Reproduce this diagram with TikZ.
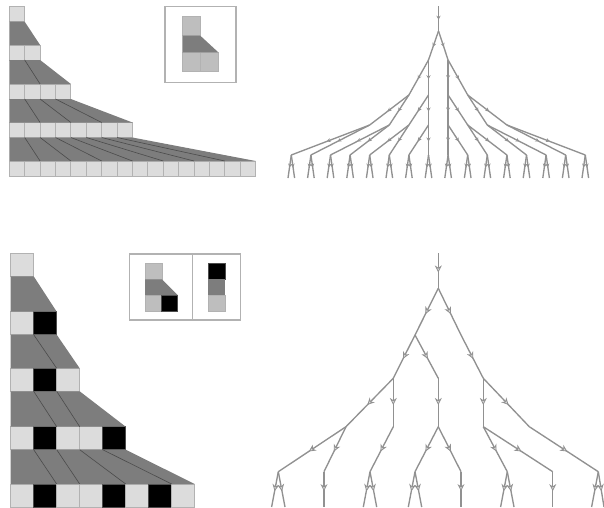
\documentclass[tikz,border=0pt]{standalone}
\usepackage{tikz}
\usepackage{xcolor}
\usetikzlibrary{arrows.meta, calc, decorations.markings}
\definecolor{cellgray}{RGB}{220,220,220}
\definecolor{keygray}{RGB}{190,190,190}
\definecolor{edgegray}{RGB}{178,178,178}
\definecolor{bandgray}{RGB}{125,125,125}
\definecolor{fangray}{RGB}{75,75,75}
\definecolor{treegray}{RGB}{145,145,145}

\begin{document}
\begin{tikzpicture}[
		x=1pt, y=-1pt,
		cell/.style={draw=edgegray, fill=cellgray, line width=0.9pt, inner sep=0pt, outer sep=0pt, anchor=north west},
		topcell/.style={cell, minimum width=15.4pt, minimum height=15pt},
		cellw/.style={cell, minimum width=23pt, minimum height=23pt},
		cellb/.style={cellw, fill=black, draw=black!70},
		key/.style={cell, fill=keygray, minimum width=18pt, minimum height=18pt},
		keyb/.style={key, fill=black, draw=black!70},
		keyband/.style={fill=bandgray},
		keybox/.style={draw=edgegray, line width=1.2pt, inner sep=0pt, outer sep=0pt, anchor=north west},
		band/.style={fill=bandgray},
		fan/.style={draw=fangray, line width=0.6pt},
		flow/.style={draw=treegray, line width=1.35pt, postaction={decorate, decoration={markings,
			mark=at position 0.55 with {\arrow[line width=0.8pt, draw=treegray]{Stealth[length=#1, width=#1, fill=cellgray]}}}}}
	]
		\useasboundingbox (0,0) rectangle (604,507);

		% upper staircase
		\foreach \k/\n/\y in {0/0/6.7,1/1/45,2/3/84,3/7/122.5,4/15/161}
			\foreach \i in {0,...,\n}
				\node[topcell] (a\k-\i) at ({9.3+15.4*\i},\y) {};
		\foreach \k/\l/\n/\m in {0/1/0/1,1/2/1/3,2/3/3/7,3/4/7/15}
			\fill[band] (a\k-0.south west) -- (a\k-\n.south east) -- (a\l-\m.north east) -- (a\l-0.north west) -- cycle;
		\foreach \k/\l/\n in {1/2/1,2/3/3,3/4/7}
			\foreach \i in {1,...,\n} {
				\pgfmathtruncatemacro\j{2*\i}
				\draw[fan] (a\k-\i.south west) -- (a\l-\j.north west);
			}

		% upper key
		\node[keybox, minimum width=71pt, minimum height=75.5pt] (boxa) at (165,6.7) {};
		\node[key, minimum height=19pt] (ka) at (182.3,16.7) {};
		\node[key, minimum height=19.4pt] (kb) at (182.3,52.3) {};
		\node[key, minimum height=19.4pt] (kc) at (200.3,52.3) {};
		\fill[keyband] (ka.south west) -- (ka.south east) -- (kc.north east) -- (kb.north west) -- cycle;

		% lower staircase
		\foreach \k/\y/\row in {0/253.3/{w},1/311.7/{w,b},2/368.3/{w,b,w},3/426.7/{w,b,w,w,b},4/484/{w,b,w,w,b,w,b,w}}
			\foreach \t [count=\i from 0] in \row
				\node[cell\t] (c\k-\i) at ({10.7+23*\i},\y) {};
		\foreach \k/\l/\n/\m in {0/1/0/1,1/2/1/2,2/3/2/4,3/4/4/7}
			\fill[band] (c\k-0.south west) -- (c\k-\n.south east) -- (c\l-\m.north east) -- (c\l-0.north west) -- cycle;
		\foreach \a/\b in {c1-1/c2-2,c2-1/c3-2,c2-2/c3-3,c3-1/c4-2,c3-2/c4-3,c3-3/c4-5,c3-4/c4-7}
			\draw[fan] (\a.south west) -- (\b.north west);

		% lower key
		\node[keybox, minimum width=111.4pt, minimum height=66pt] (boxb) at (129.3,254) {};
		\draw[keybox] (boxb.north west) ++(63.4,0) coordinate (divt) -- (divt |- boxb.south);
		\node[key, minimum width=17pt, minimum height=16pt] (kd) at (145,263.3) {};
		\node[key, minimum width=17pt, minimum height=16.7pt] (ke) at (145,295) {};
		\node[keyb, minimum width=16pt, minimum height=16.7pt] (kf) at (161.7,295) {};
		\fill[keyband] (kd.south west) -- (kd.south east) -- (kf.north east) -- (ke.north west) -- cycle;
		\node[keyb, minimum width=16.7pt, minimum height=16pt] (kg) at (208.3,263.3) {};
		\node[key, minimum width=16.7pt, minimum height=16.7pt] (kh) at (208.3,295) {};
		\fill[keyband] (kg.south west) -- (kg.south east) -- (kh.north east) -- (kh.north west) -- cycle;

		% upper tree
		\coordinate (tin) at (438.5,6);
		\coordinate (t0-0) at (438.5,31);
		\draw[flow=4pt] (tin) -- (t0-0);
		\foreach \k/\m/\y in {1/1/60,2/3/95,3/7/125,4/15/155}
			\foreach \i in {0,...,\m}
				\coordinate (t\k-\i) at ({438.3+(\i-\m/2)*19.6},\y);
		\foreach \k/\l/\m in {0/1/0,1/2/1,2/3/3,3/4/7}
			\foreach \i in {0,...,\m} {
				\pgfmathtruncatemacro\p{2*\i}
				\pgfmathtruncatemacro\q{2*\i+1}
				\draw[flow=4pt] (t\k-\i) -- (t\l-\p);
				\draw[flow=4pt] (t\k-\i) -- (t\l-\q);
			}
		\foreach \i in {0,...,15} {
			\coordinate (tl\i) at ($(t4-\i)+(-3.3,23)$);
			\coordinate (tr\i) at ($(t4-\i)+(3.3,23)$);
			\draw[flow=4pt] (t4-\i) -- (tl\i);
			\draw[flow=4pt] (t4-\i) -- (tr\i);
		}

		% lower tree
		\foreach \n/\x/\y in {bin/438.3/253, b0/438.3/288.3,
				b1a/415/335, b1b/461/335,
				b2a/393.3/378.3, b2b/438.3/378.3, b2c/483.3/378.3,
				b3a/346/426.7, b3b/393.3/426.7, b3c/438.3/426.7, b3d/483.3/426.7, b3e/529.3/426.7,
				b4a/278.3/471.7, b4b/324/471.7, b4c/370/471.7, b4d/415/471.7,
				b4e/461/471.7, b4f/507.3/471.7, b4g/552.7/471.7, b4h/598.3/471.7,
				e1/271.6/507, e2/285/507, e3/324/507, e4/363.3/507, e5/376.7/507,
				e6/408.3/507, e7/421.7/507, e8/461/507, e9/500.6/507, e10/514/507,
				e11/552.7/507, e12/591.6/507, e13/604/507}
			\coordinate (\n) at (\x,\y);
		\foreach \a/\b in {bin/b0, b0/b1a, b0/b1b, b1a/b2a, b1a/b2b, b1b/b2c,
				b2a/b3a, b2a/b3b, b2b/b3c, b2c/b3d, b2c/b3e,
				b3a/b4a, b3a/b4b, b3b/b4c, b3c/b4d, b3c/b4e, b3d/b4f, b3d/b4g, b3e/b4h,
				b4a/e1, b4a/e2, b4b/e3, b4c/e4, b4c/e5, b4d/e6, b4d/e7, b4e/e8,
				b4f/e9, b4f/e10, b4g/e11, b4h/e12, b4h/e13}
			\draw[flow=7pt] (\a) -- (\b);
	\end{tikzpicture}
\end{document}
